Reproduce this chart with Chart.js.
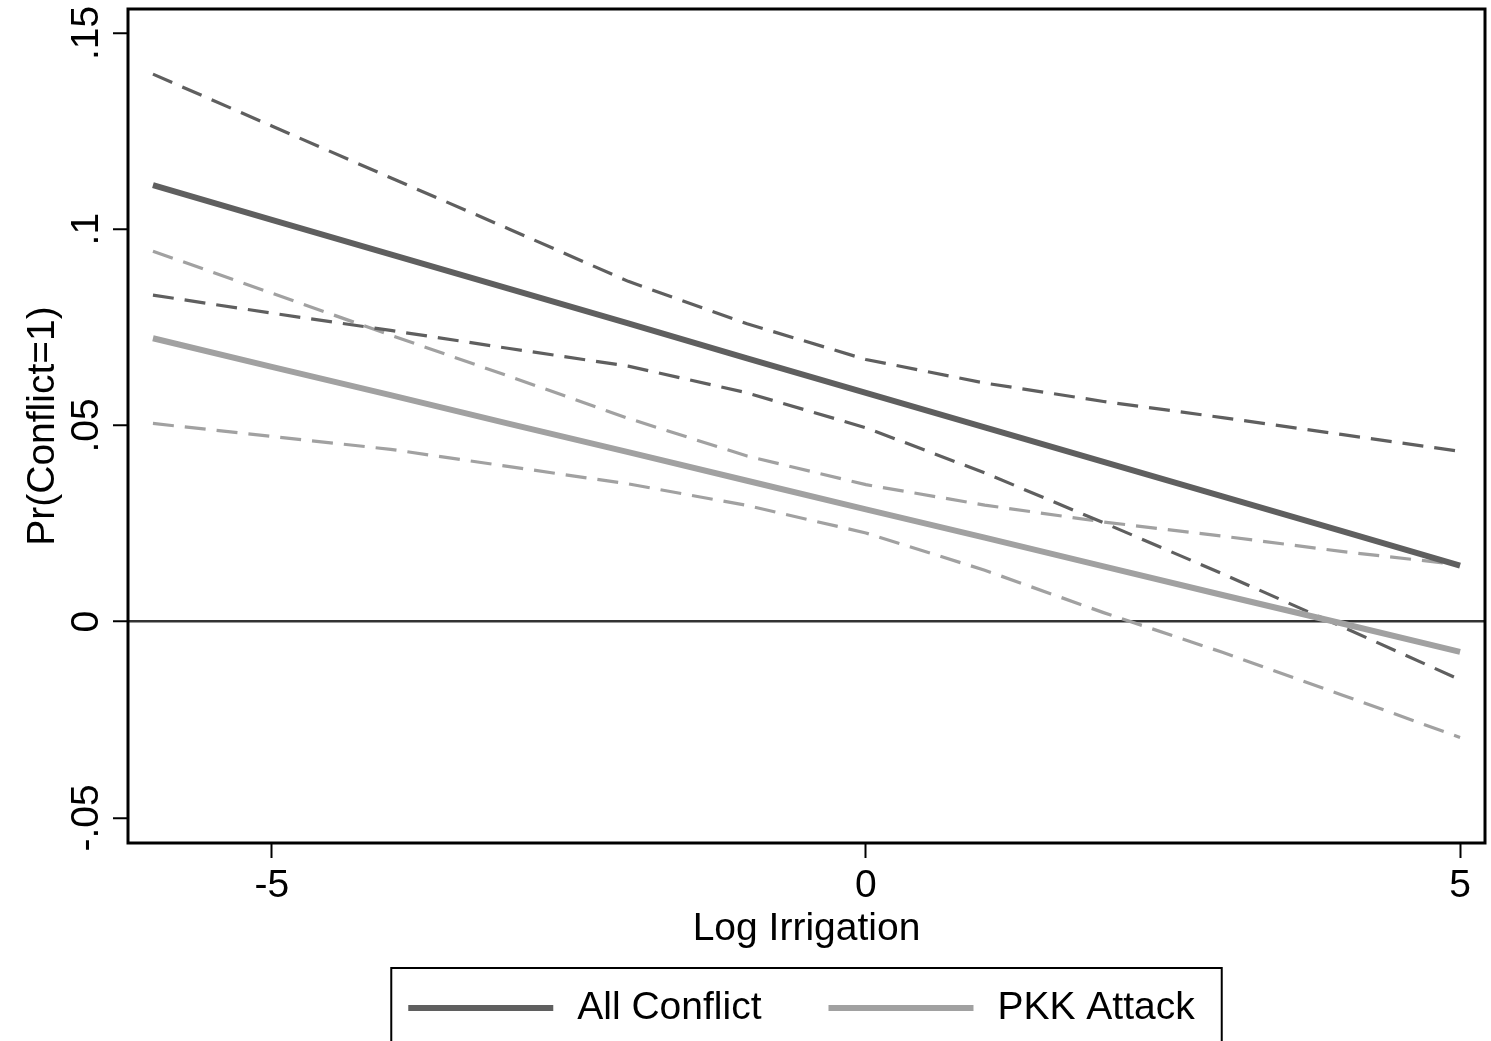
<!DOCTYPE html>
<html>
<head>
<meta charset="utf-8">
<script src="https://cdn.jsdelivr.net/npm/chart.js@4.4.0/dist/chart.umd.min.js"></script>
<style>
  html, body { margin: 0; padding: 0; background: #fff; }
</style>
</head>
<body>
<canvas id="chart" width="1491" height="1041"></canvas>
<script>
// values (predicted probabilities with 95% CI)
const xVals = [-6, -5, -4, -3, -2, -1, 0, 1, 2, 3, 4, 5];
const allConflict = [0.1112, 0.1024, 0.0936, 0.0848, 0.0760, 0.0671, 0.0583, 0.0495, 0.0407, 0.0319, 0.0231, 0.0143];
const allUpper = [0.1395, 0.1263, 0.1131, 0.1000, 0.0867, 0.0759, 0.0668, 0.0608, 0.0561, 0.0520, 0.0477, 0.0434];
const allLower = [0.0832, 0.0786, 0.0742, 0.0696, 0.0651, 0.0583, 0.0494, 0.0379, 0.0252, 0.0122, -0.0012, -0.0148];
const pkkAttack = [0.0722, 0.0649, 0.0577, 0.0504, 0.0432, 0.0359, 0.0286, 0.0214, 0.0141, 0.0068, -0.0004, -0.0077];
const pkkUpper = [0.0944, 0.0837, 0.0730, 0.0625, 0.0518, 0.0422, 0.0349, 0.0297, 0.0254, 0.0218, 0.0179, 0.0145];
const pkkLower = [0.0505, 0.0472, 0.0439, 0.0395, 0.0351, 0.0296, 0.0226, 0.0131, 0.0023, -0.0078, -0.0186, -0.0295];

const seriesNames = ['All Conflict', 'PKK Attack'];
const xTicks = [-5, 0, 5];
const xTickLabels = ['-5', '0', '5'];
const yTicks = [-0.05, 0, 0.05, 0.1, 0.15];
const yTickLabels = ['-.05', '0', '.05', '.1', '.15'];

const DARK = '#5f5f5f';
const LIGHT = '#a1a1a1';
const FONT = "'Liberation Sans', Arial, Helvetica, sans-serif";
const FSIZE = 39;

Chart.defaults.font.family = FONT;
Chart.defaults.color = '#000';

const pts = arr => xVals.map((x, i) => ({ x: x, y: arr[i] }));

const solid = (label, arr, color) => ({
  label: label, data: pts(arr), borderColor: color, backgroundColor: color,
  borderWidth: 6, pointRadius: 0, tension: 0, fill: false
});
const dashed = (arr, color) => ({
  label: '', data: pts(arr), borderColor: color, borderWidth: 3.2,
  borderDash: [21, 11], pointRadius: 0, tension: 0, fill: false
});

// frame around the plot region
const framePlugin = {
  id: 'frame',
  afterDatasetsDraw(chart) {
    const { ctx, chartArea: a } = chart;
    ctx.save();
    ctx.strokeStyle = '#000';
    ctx.lineWidth = 3;
    ctx.strokeRect(a.left, a.top, a.right - a.left, a.bottom - a.top);
    ctx.restore();
  }
};

// y tick labels, rotated like the original
const yLabelPlugin = {
  id: 'yLabels',
  afterDraw(chart) {
    const { ctx } = chart;
    const scale = chart.scales.y;
    ctx.save();
    ctx.fillStyle = '#000';
    ctx.font = FSIZE + 'px ' + FONT;
    ctx.textAlign = 'center';
    ctx.textBaseline = 'alphabetic';
    scale.ticks.forEach(t => {
      const y = scale.getPixelForValue(t.value);
      ctx.save();
      ctx.translate(98, y);
      ctx.rotate(-Math.PI / 2);
      ctx.fillText(yTickLabels[yTicks.indexOf(t.value)], 0, 0);
      ctx.restore();
    });
    ctx.restore();
  }
};

// boxed legend under the axis
const legendPlugin = {
  id: 'boxLegend',
  afterDraw(chart) {
    const { ctx, chartArea: a } = chart;
    const colors = [DARK, LIGHT];
    ctx.save();
    ctx.font = FSIZE + 'px ' + FONT;
    const sample = 145, gapText = 24, gapItem = 67, padL = 17, padR = 27;
    const widths = seriesNames.map(s => ctx.measureText(s).width);
    const inner = seriesNames.length * (sample + gapText) + widths.reduce((p, c) => p + c, 0) + gapItem;
    const boxW = inner + padL + padR;
    const boxL = (a.left + a.right) / 2 - boxW / 2;
    const boxT = 968;
    const cy = 1008;
    ctx.strokeStyle = '#000';
    ctx.lineWidth = 2;
    ctx.strokeRect(boxL, boxT, boxW, chart.height + 20 - boxT);
    let x = boxL + padL;
    seriesNames.forEach((s, i) => {
      ctx.fillStyle = colors[i];
      ctx.fillRect(x, cy - 3, sample, 6);
      x += sample + gapText;
      ctx.fillStyle = '#000';
      ctx.textAlign = 'left';
      ctx.textBaseline = 'middle';
      ctx.fillText(s, x, cy);
      x += widths[i] + gapItem;
    });
    ctx.restore();
  }
};

new Chart(document.getElementById('chart'), {
  type: 'line',
  data: {
    datasets: [
      solid(seriesNames[0], allConflict, DARK),
      solid(seriesNames[1], pkkAttack, LIGHT),
      dashed(allUpper, DARK),
      dashed(allLower, DARK),
      dashed(pkkUpper, LIGHT),
      dashed(pkkLower, LIGHT)
    ]
  },
  options: {
    responsive: false,
    animation: false,
    devicePixelRatio: 1,
    layout: { padding: { top: 9, right: 6, bottom: 85, left: 0 } },
    plugins: { legend: { display: false }, tooltip: { enabled: false } },
    scales: {
      x: {
        type: 'linear',
        min: -6.21,
        max: 5.21,
        afterBuildTicks: scale => { scale.ticks = xTicks.map(v => ({ value: v })); },
        afterFit: scale => { scale.height = 113; },
        ticks: {
          font: { size: FSIZE },
          padding: 5,
          maxRotation: 0,
          callback: v => xTickLabels[xTicks.indexOf(v)]
        },
        grid: { drawOnChartArea: false, drawTicks: true, tickLength: 15, tickColor: '#000', tickWidth: 2 },
        border: { display: false },
        title: {
          display: true, text: 'Log Irrigation',
          font: { size: FSIZE }, color: '#000', padding: { top: 0, bottom: 3 }
        }
      },
      y: {
        type: 'linear',
        min: -0.0564,
        max: 0.1561,
        afterBuildTicks: scale => { scale.ticks = yTicks.map(v => ({ value: v })); },
        afterFit: scale => { scale.width = 128; },
        ticks: { display: false },
        grid: {
          drawOnChartArea: true,
          drawTicks: true,
          tickLength: 15,
          tickColor: '#000',
          tickWidth: 2,
          lineWidth: 2.5,
          color: c => (c.tick && c.tick.value === 0 ? '#333' : 'rgba(0,0,0,0)')
        },
        border: { display: false },
        title: {
          display: true, text: 'Pr(Conflict=1)',
          font: { size: FSIZE }, color: '#000', padding: { top: 20, bottom: 0 }
        }
      }
    }
  },
  plugins: [framePlugin, yLabelPlugin, legendPlugin]
});
</script>
</body>
</html>
